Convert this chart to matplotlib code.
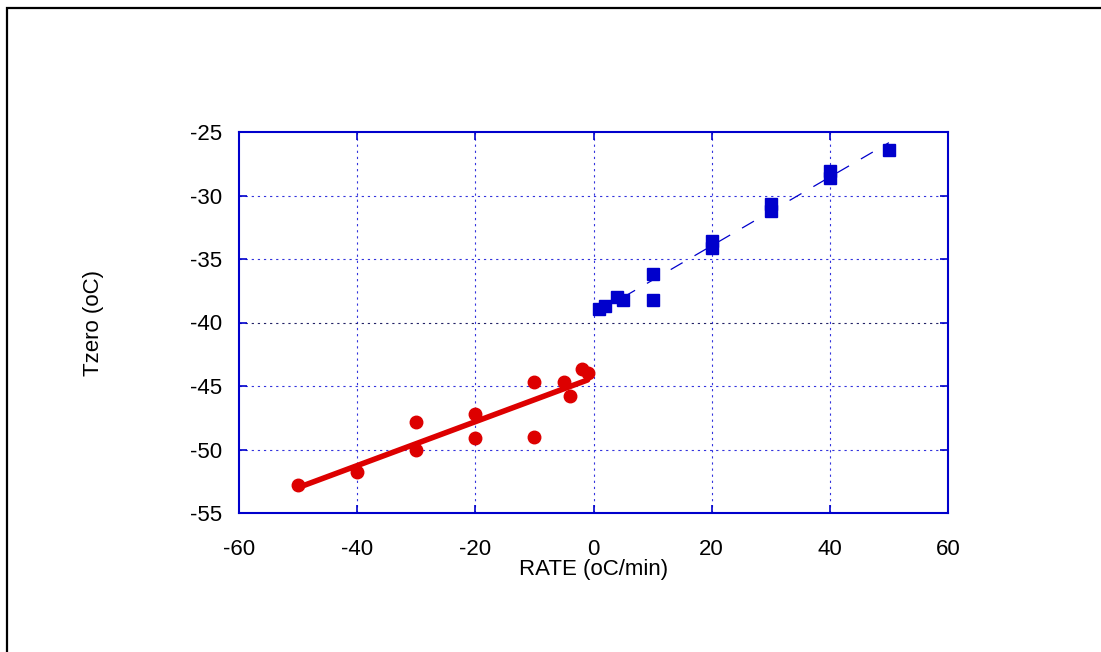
import matplotlib
matplotlib.use("Agg")
import matplotlib.pyplot as plt
import numpy as np
from matplotlib.patches import Rectangle

plt.rcParams["font.family"] = ["Liberation Sans", "DejaVu Sans"]
plt.rcParams["axes.unicode_minus"] = False

# cooling runs (negative rate)
cool_rate = [-50, -40, -30, -30, -20, -20, -10, -10, -5, -4, -2, -1]
cool_tzero = [-52.8, -51.8, -47.8, -50.0, -47.2, -49.1, -44.7, -49.0, -44.7, -45.8, -43.7, -44.0]

# heating runs (positive rate)
heat_rate = [1, 2, 4, 5, 10, 10, 20, 20, 30, 30, 40, 40, 50]
heat_tzero = [-38.9, -38.7, -38.0, -38.2, -36.2, -38.2, -33.6, -34.1, -30.7, -31.2, -28.1, -28.6, -26.4]

x_ticks = [-60, -40, -20, 0, 20, 40, 60]
y_ticks = [-55, -50, -45, -40, -35, -30, -25]

fig = plt.figure(figsize=(11.01, 6.52), dpi=100)
ax = fig.add_axes([239 / 1101, 1 - 513 / 652, 709 / 1101, 381 / 652])

# outer frame, only left and top edges are visible in the crop
fig.patches.append(Rectangle((7 / 1101, -0.1), 1.2, 1 - 8 / 652 + 0.1,
                             transform=fig.transFigure, fill=False,
                             edgecolor="black", linewidth=1.6))

blue = "#0000cc"
red = "#dd0000"
grid_blue = "#3333dd"

for xv in x_ticks[1:-1]:
    ax.axvline(xv, color=grid_blue, linestyle=(0, (2, 3.5)), linewidth=0.8, zorder=1)
for yv in y_ticks[1:-1]:
    col = "#222266" if yv == -40 else grid_blue
    ax.axhline(yv, color=col, linestyle=(0, (2, 3.5)), linewidth=0.8, zorder=1)

# fits
cf = np.polyfit(cool_rate, cool_tzero, 1)
xs = np.array([min(cool_rate), max(cool_rate)])
ax.plot(xs, np.polyval(cf, xs), color=red, linewidth=4, solid_capstyle="round", zorder=2)

hf = np.polyfit(heat_rate, heat_tzero, 1)
xs = np.array([min(heat_rate), max(heat_rate)])
ax.plot(xs, np.polyval(hf, xs), color=blue, linewidth=0.9, dashes=(11, 11), zorder=2)

ax.plot(cool_rate, cool_tzero, "o", color=red, markersize=9, zorder=3)
ax.plot(heat_rate, heat_tzero, "s", color=blue, markersize=9, zorder=3)

ax.set_xlim(-60, 60)
ax.set_ylim(-55, -25)
ax.set_xticks(x_ticks)
ax.set_yticks(y_ticks)
ax.tick_params(axis="both", direction="in", length=6, width=1.2, color=blue,
               top=True, right=True, labelsize=16)
ax.tick_params(axis="x", pad=19)
ax.tick_params(axis="y", pad=12)
for s in ax.spines.values():
    s.set_color(blue)
    s.set_linewidth(1.5)

ax.set_xlabel("RATE (oC/min)", fontsize=16, labelpad=-1)
ax.set_ylabel("Tzero (oC)", fontsize=16, labelpad=62)

fig.savefig("out.png", dpi=100)
